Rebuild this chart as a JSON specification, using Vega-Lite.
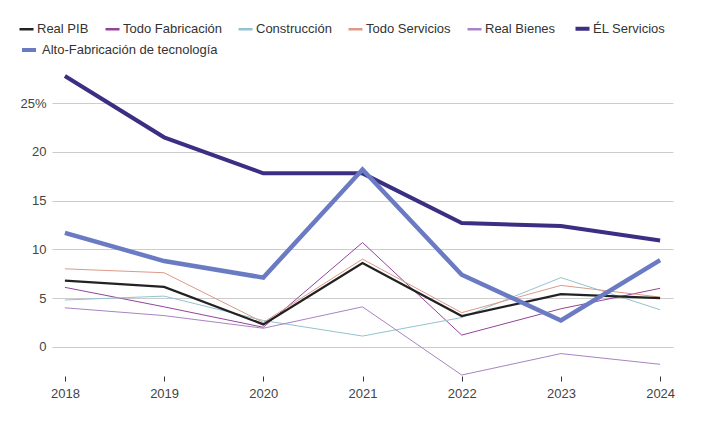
{
  "$schema": "https://vega.github.io/schema/vega-lite/v6.json",
  "width": 621,
  "height": 302,
  "autosize": {"type": "none"},
  "padding": {"left": 52, "top": 74, "right": 34, "bottom": 52},
  "background": "white",
  "data": {
    "values": [
      {"serie": "Todo Fabricación", "year": "2018", "value": 6.1},
      {"serie": "Todo Fabricación", "year": "2019", "value": 4.1},
      {"serie": "Todo Fabricación", "year": "2020", "value": 2.0},
      {"serie": "Todo Fabricación", "year": "2021", "value": 10.7},
      {"serie": "Todo Fabricación", "year": "2022", "value": 1.2},
      {"serie": "Todo Fabricación", "year": "2023", "value": 3.9},
      {"serie": "Todo Fabricación", "year": "2024", "value": 6.0},
      {"serie": "Construcción", "year": "2018", "value": 4.8},
      {"serie": "Construcción", "year": "2019", "value": 5.2},
      {"serie": "Construcción", "year": "2020", "value": 2.7},
      {"serie": "Construcción", "year": "2021", "value": 1.1},
      {"serie": "Construcción", "year": "2022", "value": 3.0},
      {"serie": "Construcción", "year": "2023", "value": 7.1},
      {"serie": "Construcción", "year": "2024", "value": 3.8},
      {"serie": "Todo Servicios", "year": "2018", "value": 8.0},
      {"serie": "Todo Servicios", "year": "2019", "value": 7.6},
      {"serie": "Todo Servicios", "year": "2020", "value": 2.5},
      {"serie": "Todo Servicios", "year": "2021", "value": 9.0},
      {"serie": "Todo Servicios", "year": "2022", "value": 3.5},
      {"serie": "Todo Servicios", "year": "2023", "value": 6.3},
      {"serie": "Todo Servicios", "year": "2024", "value": 5.1},
      {"serie": "Real Bienes", "year": "2018", "value": 4.0},
      {"serie": "Real Bienes", "year": "2019", "value": 3.2},
      {"serie": "Real Bienes", "year": "2020", "value": 1.9},
      {"serie": "Real Bienes", "year": "2021", "value": 4.1},
      {"serie": "Real Bienes", "year": "2022", "value": -2.9},
      {"serie": "Real Bienes", "year": "2023", "value": -0.7},
      {"serie": "Real Bienes", "year": "2024", "value": -1.8},
      {"serie": "Real PIB", "year": "2018", "value": 6.8},
      {"serie": "Real PIB", "year": "2019", "value": 6.15},
      {"serie": "Real PIB", "year": "2020", "value": 2.3},
      {"serie": "Real PIB", "year": "2021", "value": 8.6},
      {"serie": "Real PIB", "year": "2022", "value": 3.15},
      {"serie": "Real PIB", "year": "2023", "value": 5.4},
      {"serie": "Real PIB", "year": "2024", "value": 5.0},
      {"serie": "ÉL Servicios", "year": "2018", "value": 27.8},
      {"serie": "ÉL Servicios", "year": "2019", "value": 21.5},
      {"serie": "ÉL Servicios", "year": "2020", "value": 17.8},
      {"serie": "ÉL Servicios", "year": "2021", "value": 17.8},
      {"serie": "ÉL Servicios", "year": "2022", "value": 12.7},
      {"serie": "ÉL Servicios", "year": "2023", "value": 12.4},
      {"serie": "ÉL Servicios", "year": "2024", "value": 10.9},
      {"serie": "Alto-Fabricación de tecnología", "year": "2018", "value": 11.7},
      {"serie": "Alto-Fabricación de tecnología", "year": "2019", "value": 8.8},
      {"serie": "Alto-Fabricación de tecnología", "year": "2020", "value": 7.1},
      {"serie": "Alto-Fabricación de tecnología", "year": "2021", "value": 18.2},
      {"serie": "Alto-Fabricación de tecnología", "year": "2022", "value": 7.4},
      {"serie": "Alto-Fabricación de tecnología", "year": "2023", "value": 2.7},
      {"serie": "Alto-Fabricación de tecnología", "year": "2024", "value": 8.9}
    ]
  },
  "encoding": {
    "x": {
      "field": "year",
      "type": "ordinal",
      "scale": {"type": "point", "padding": 0.13},
      "axis": {
        "title": null,
        "domain": false,
        "grid": false,
        "ticks": true,
        "tickSize": 5,
        "tickColor": "#333333",
        "labelAngle": 0,
        "labelPadding": 6,
        "labelFontSize": 13,
        "labelColor": "#444444"
      }
    },
    "y": {
      "field": "value",
      "type": "quantitative",
      "scale": {"domain": [-3, 28], "nice": false, "zero": false},
      "axis": {
        "title": null,
        "domain": false,
        "ticks": false,
        "values": [0, 5, 10, 15, 20, 25],
        "labelExpr": "datum.value == 25 ? '25%' : datum.label",
        "labelPadding": 6,
        "labelFontSize": 13,
        "labelColor": "#444444",
        "grid": true,
        "gridColor": "#cccccc",
        "gridWidth": 1
      }
    }
  },
  "layer": [
    {
      "encoding": {
        "color": {
          "field": "serie",
          "type": "nominal",
          "scale": {
            "domain": ["Real PIB", "Todo Fabricación", "Construcción", "Todo Servicios", "Real Bienes", "ÉL Servicios"],
            "range": ["#222222", "#93449a", "#93c3d0", "#dc9a88", "#a983c2", "#3a2f82"]
          },
          "legend": {
            "title": null,
            "orient": "none",
            "legendX": -32,
            "legendY": -52,
            "direction": "horizontal",
            "columnPadding": 11,
            "symbolType": "stroke",
            "symbolSize": 196,
            "symbolStrokeWidth": 2.5,
            "labelOffset": 4,
            "labelFontSize": 13,
            "labelLimit": 300,
            "labelColor": "#333333",
            "encode": {
              "symbols": {
                "update": {"strokeWidth": {"signal": "datum.value == 'ÉL Servicios' ? 4 : 2.5"}}
              }
            }
          }
        }
      },
      "layer": [
        {
          "transform": [{"filter": "indexof(['Todo Fabricación', 'Construcción', 'Todo Servicios', 'Real Bienes'], datum.serie) >= 0"}],
          "mark": {"type": "line", "strokeWidth": 1, "strokeJoin": "miter"}
        },
        {
          "transform": [{"filter": "datum.serie == 'Real PIB'"}],
          "mark": {"type": "line", "strokeWidth": 2.3, "strokeJoin": "miter"}
        },
        {
          "transform": [{"filter": "datum.serie == 'ÉL Servicios'"}],
          "mark": {"type": "line", "strokeWidth": 4, "strokeJoin": "miter"}
        }
      ]
    },
    {
      "transform": [{"filter": "datum.serie == 'Alto-Fabricación de tecnología'"}],
      "mark": {"type": "line", "strokeWidth": 4.5, "strokeJoin": "miter"},
      "encoding": {
        "color": {
          "field": "serie",
          "type": "nominal",
          "scale": {"domain": ["Alto-Fabricación de tecnología"], "range": ["#6a7bc4"]},
          "legend": {
            "title": null,
            "orient": "none",
            "legendX": -32,
            "legendY": -33,
            "direction": "horizontal",
            "symbolType": "stroke",
            "symbolSize": 196,
            "symbolStrokeWidth": 4,
            "labelOffset": 4,
            "labelFontSize": 13,
            "labelLimit": 300,
            "labelColor": "#333333"
          }
        }
      }
    }
  ],
  "resolve": {"scale": {"color": "independent"}, "legend": {"color": "independent"}},
  "config": {
    "font": "Liberation Sans",
    "view": {"stroke": null}
  }
}
